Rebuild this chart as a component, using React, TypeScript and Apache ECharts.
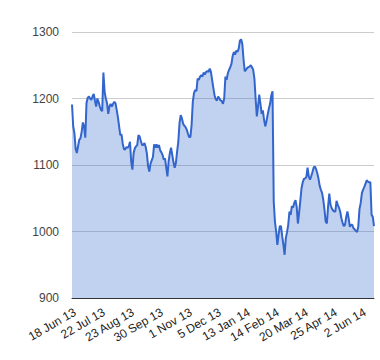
import React, { useEffect, useRef } from "react";
import * as echarts from "echarts";

const tickLabels = [
  "18 Jun 13", "22 Jul 13", "23 Aug 13", "30 Sep 13", "1 Nov 13", "5 Dec 13",
  "13 Jan 14", "14 Feb 14", "20 Mar 14", "25 Apr 14", "2 Jun 14",
];
const labelEvery = 24;

const values = [
  1191, 1158, 1148, 1125, 1118, 1128, 1138, 1140, 1150, 1164,
  1158, 1141, 1193, 1201, 1203, 1200, 1198, 1203, 1207, 1197,
  1188, 1200, 1195, 1188, 1183, 1181, 1239, 1210, 1200, 1193,
  1177, 1188, 1192, 1188, 1192, 1195, 1193, 1183, 1172, 1158,
  1145, 1146, 1132, 1124, 1123, 1127, 1126, 1128, 1135, 1105,
  1093, 1118, 1125, 1128, 1130, 1145, 1143, 1136, 1130, 1130,
  1133, 1127, 1117, 1098, 1090, 1102, 1107, 1112, 1131, 1126,
  1131, 1126, 1130, 1122, 1119, 1115, 1108, 1110, 1096, 1083,
  1106, 1118, 1126, 1115, 1104, 1096, 1103, 1120, 1135, 1163,
  1175, 1170, 1162, 1159, 1157, 1153, 1147, 1142, 1142, 1160,
  1195, 1208, 1213, 1211, 1230, 1228, 1233, 1235, 1233, 1239,
  1236, 1240, 1241, 1240, 1245, 1240, 1228, 1216, 1205, 1199,
  1197, 1203, 1200, 1197, 1196, 1192, 1200, 1233, 1228, 1238,
  1243, 1247, 1252, 1264, 1270, 1266, 1272, 1270, 1275, 1287,
  1289, 1282, 1259, 1241, 1243, 1246, 1247, 1248, 1250, 1247,
  1243, 1230, 1200, 1173, 1188, 1206, 1192, 1177, 1182, 1168,
  1158, 1166, 1176, 1185, 1192, 1205, 1211, 1045, 1015, 1000,
  980, 995, 1008, 1008, 993, 980, 965, 990, 999, 1010,
  1030, 1025, 1038, 1036, 1043, 1047, 1037, 1012, 1028, 1046,
  1065, 1074, 1079, 1080, 1082, 1096, 1083, 1078, 1083, 1089,
  1096, 1098, 1094, 1088, 1080, 1069, 1063, 1058, 1048, 1033,
  1015, 1012, 1038, 1057, 1040, 1035, 1032, 1030, 1030, 1046,
  1040, 1036, 1030, 1020, 1013, 1008, 1010, 1022, 1030, 1020,
  1007, 1010, 1010, 1005, 1003, 1001, 999, 1008, 1034, 1043,
  1058, 1063, 1067, 1072, 1077, 1075, 1074, 1074, 1025, 1022,
  1008,
];

const categories = values.map((_, i) =>
  i % labelEvery === 0 && tickLabels[i / labelEvery] ? tickLabels[i / labelEvery] : ""
);

export default function App() {
  const ref = useRef<HTMLDivElement>(null);
  useEffect(() => {
    document.body.style.margin = "0";
    if (!ref.current) return;
    const chart = echarts.init(ref.current, null, { renderer: "svg" });
    chart.setOption({
      animation: false,
      grid: { left: 72, right: 6, top: 32, bottom: 62 },
      xAxis: {
        type: "category",
        data: categories,
        boundaryGap: false,
        axisLine: { lineStyle: { color: "#333333", width: 1 } },
        axisTick: { show: false },
        axisLabel: {
          interval: (idx: number) => categories[idx] !== "",
          rotate: 30,
          margin: 8,
          verticalAlign: "top",
          showMinLabel: true,
          showMaxLabel: true,
          fontSize: 12,
          color: "#222222",
          fontFamily: "Liberation Sans, Arial, sans-serif",
        },
        splitLine: { show: false },
      },
      yAxis: {
        type: "value",
        min: 900,
        max: 1300,
        interval: 100,
        axisLine: { show: false },
        axisTick: { show: false },
        axisLabel: {
          margin: 13,
          fontSize: 12,
          color: "#444444",
          fontFamily: "Liberation Sans, Arial, sans-serif",
          formatter: (v: number) => String(v),
        },
        splitLine: { lineStyle: { color: "#cccccc", width: 1 } },
      },
      series: [
        {
          type: "line",
          data: values,
          symbol: "none",
          lineStyle: { color: "#3366cc", width: 2 },
          areaStyle: { color: "#3366cc", opacity: 0.3 },
        },
      ],
    });
    return () => chart.dispose();
  }, []);
  return <div ref={ref} style={{ width: 380, height: 360 }} />;
}
